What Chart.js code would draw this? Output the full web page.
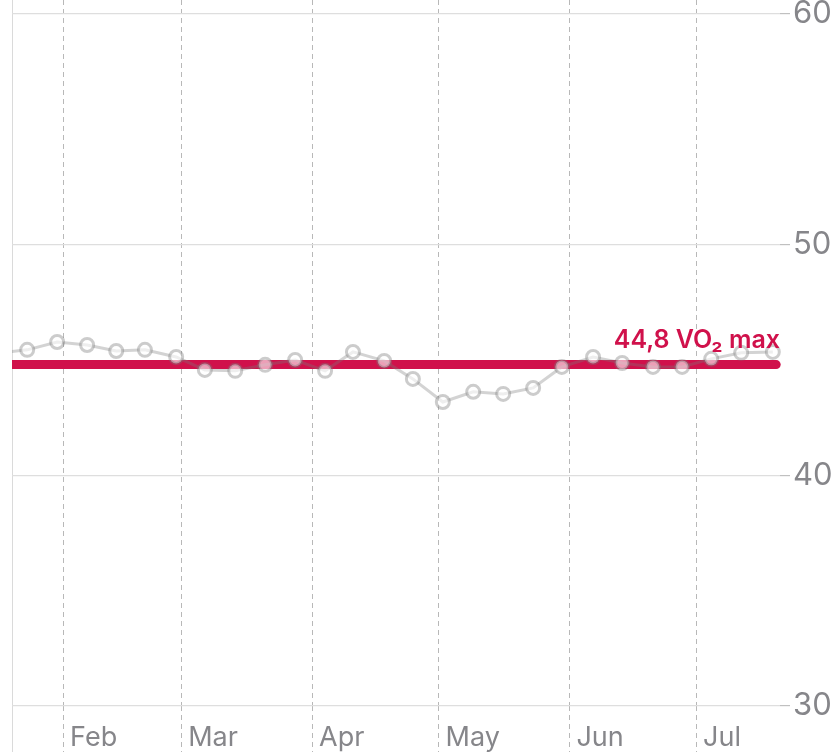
<!DOCTYPE html>
<html>
<head>
<meta charset="utf-8">
<script src="https://cdn.jsdelivr.net/npm/chart.js@4.4.1/dist/chart.umd.min.js"></script>
<style>
  html, body { margin: 0; padding: 0; background: #fff; }
  #wrap { width: 834px; height: 752px; }
</style>
</head>
<body>
<div id="wrap"><canvas id="vo2Chart" width="834" height="752"></canvas></div>
<script>
// weekly VO2 max readings, x = day of year
const weekDays = [15.5, 22.5, 29.6, 36.7, 43.6, 50.4, 57.8, 64.6, 71.8, 78.9, 86, 93.1, 99.7, 107.1,
                  113.9, 121, 128.2, 135.3, 142.4, 149.2, 156.6, 163.5, 170.8, 177.7, 184.6, 191.7, 199.2];
const weekValues = [45.3, 45.44, 45.78, 45.65, 45.39, 45.44, 45.13, 44.57, 44.53, 44.79, 45.0, 44.53, 45.35, 44.96,
                    44.18, 43.18, 43.62, 43.53, 43.79, 44.7, 45.13, 44.87, 44.7, 44.7, 45.05, 45.31, 45.35];
const vo2Max = 44.8;
const monthStarts = [31, 59, 90, 120, 151, 181];
const monthLabels = ['Feb', 'Mar', 'Apr', 'May', 'Jun', 'Jul'];
const yTicks = [30, 40, 50, 60];
const dayMin = 18.9, dayMax = 200.9;
const avgSpan = [dayMin, 200];

const red = '#d0114b';

const noPad = s => { s.paddingLeft = 0; s.paddingRight = 0; s.paddingTop = 0; s.paddingBottom = 0; };

const avgLabel = {
    id: 'avgLabel',
    afterDatasetsDraw(chart) {
        const { ctx, chartArea, scales } = chart;
        const y = scales.y.getPixelForValue(vo2Max);
        ctx.save();
        ctx.font = '600 25px Inter';
        ctx.fillStyle = red;
        ctx.textAlign = 'right';
        ctx.textBaseline = 'alphabetic';
        ctx.fillText(vo2Max.toFixed(1).replace('.', ',') + ' VO\u2082 max', chartArea.right, y - 17);
        ctx.restore();
    }
};

new Chart(document.getElementById('vo2Chart'), {
    type: 'line',
    data: {
        datasets: [
            {
                // weekly readings, drawn over the average line
                data: weekDays.map((d, i) => ({ x: d, y: weekValues[i] })),
                borderColor: 'rgba(120,120,120,0.33)',
                borderWidth: 3,
                pointRadius: 6.5,
                pointBorderWidth: 3,
                pointBorderColor: 'rgba(120,120,120,0.38)',
                pointBackgroundColor: 'rgba(255,255,255,0.6)',
                tension: 0,
                clip: { left: 0, top: 0, right: 10, bottom: 0 }
            },
            {
                data: avgSpan.map(d => ({ x: d, y: vo2Max })),
                borderColor: red,
                borderWidth: 9,
                borderCapStyle: 'round',
                pointRadius: 0,
                clip: { left: 0, top: 0, right: 10, bottom: 0 }
            }
        ]
    },
    options: {
        responsive: false,
        animation: false,
        layout: { autoPadding: false, padding: { left: 12, top: 0, right: 0, bottom: 0 } },
        plugins: { legend: { display: false }, tooltip: { enabled: false } },
        scales: {
            x: {
                type: 'linear',
                min: dayMin,
                max: dayMax,
                afterBuildTicks: s => { s.ticks = [dayMin].concat(monthStarts).map(v => ({ value: v })); },
                afterFit: s => { noPad(s); s.height = 46; },
                grid: {
                    color: c => c.index === 0 ? '#dadada' : '#b8b8b8',
                    tickColor: c => c.index === 0 ? '#dadada' : '#b8b8b8',
                    tickLength: 46,
                    tickBorderDash: c => c.index === 0 ? [] : [5, 4]
                },
                border: { display: false, dash: c => c.index === 0 ? [] : [5, 4] },
                ticks: {
                    align: 'start',
                    labelOffset: 7,
                    padding: -30,
                    maxRotation: 0,
                    autoSkip: false,
                    color: '#86868a',
                    font: { family: 'Inter', size: 27 },
                    callback: (v, i) => i === 0 ? '' : monthLabels[i - 1]
                }
            },
            y: {
                position: 'right',
                min: 30,
                max: 60.607,
                afterBuildTicks: s => { s.ticks = yTicks.map(v => ({ value: v })); },
                afterFit: s => { noPad(s); s.width = 54; },
                grid: { color: '#dedede', lineWidth: 1.2, tickLength: 10, tickColor: '#c0c0c0' },
                border: { display: false },
                ticks: {
                    padding: 3,
                    color: '#86868a',
                    font: { family: 'Inter', size: 31 }
                }
            }
        }
    },
    plugins: [avgLabel]
});
</script>
</body>
</html>
